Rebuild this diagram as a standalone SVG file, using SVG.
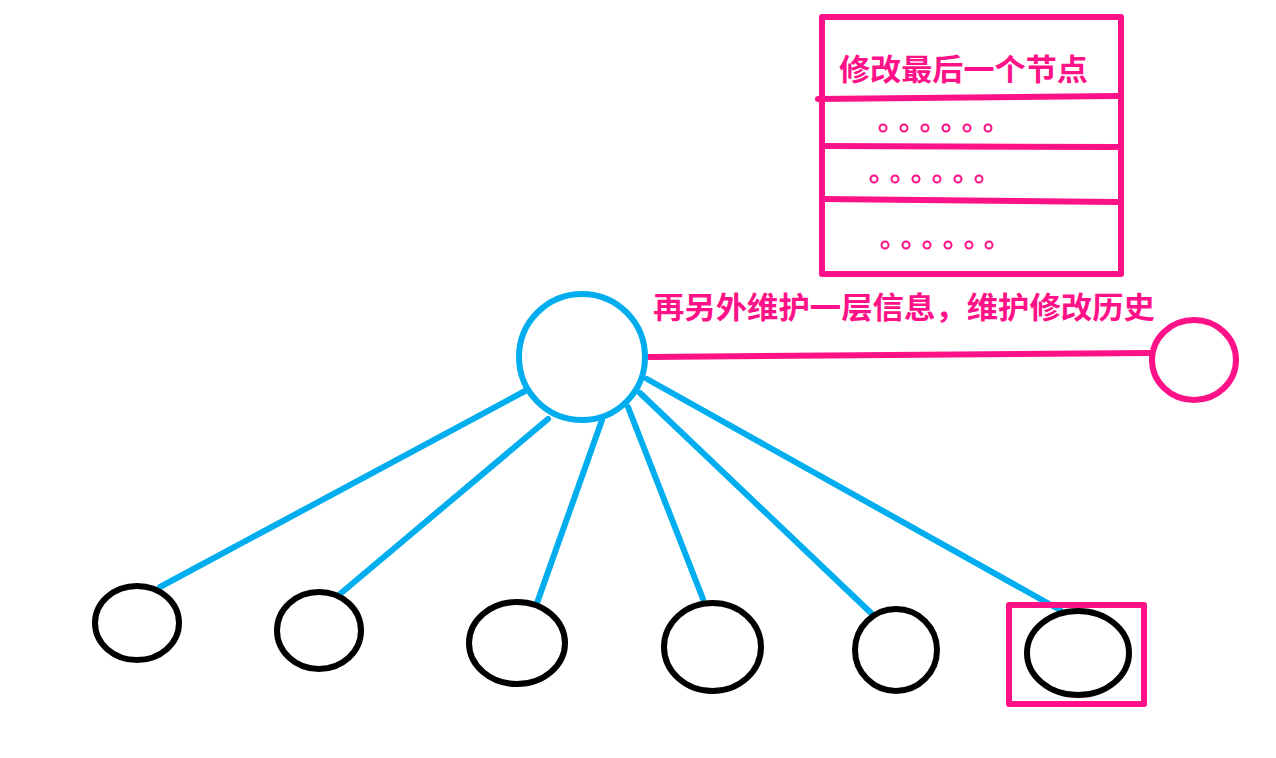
<svg xmlns="http://www.w3.org/2000/svg" width="1276" height="758" viewBox="0 0 1276 758">
<style>
.blue{fill:none;stroke:#00aeef;stroke-width:6;stroke-linecap:round}
.pink{fill:none;stroke:#ff1188;stroke-width:6;stroke-linecap:round;stroke-linejoin:round}
.black{fill:none;stroke:#000;stroke-width:6}
.dot{fill:none;stroke:#ff1188;stroke-width:2}
.lbl{font-family:"Noto Sans CJK SC","Noto Sans",sans-serif;font-weight:bold;font-size:30px;fill:#ff1188}
</style>
<rect width="1276" height="758" fill="#fff"/>
<g id="connectors">
<line class="blue" x1="525" y1="391" x2="160" y2="587"/>
<line class="blue" x1="548" y1="419" x2="340" y2="594"/>
<line class="blue" x1="602" y1="420" x2="537" y2="603"/>
<line class="blue" x1="628" y1="407" x2="703" y2="599"/>
<line class="blue" x1="640" y1="393" x2="871" y2="613"/>
<line class="blue" x1="647" y1="379" x2="1060" y2="610"/>
<line class="pink" x1="649" y1="357" x2="1150" y2="353"/>
</g>
<g id="root">
<ellipse class="blue" cx="582" cy="357" rx="63" ry="63"/>
</g>
<g id="history-node">
<ellipse class="pink" cx="1194" cy="360" rx="42" ry="40"/>
</g>
<g id="label-history">
<text class="lbl" x="653" y="318" textLength="502" lengthAdjust="spacingAndGlyphs">再另外维护一层信息，维护修改历史</text>
</g>
<g id="history-box">
<rect class="pink" x="822" y="17" width="299" height="257"/>
<line class="pink" x1="818" y1="99" x2="1118" y2="96"/>
<line class="pink" x1="822" y1="146" x2="1118" y2="147"/>
<line class="pink" x1="822" y1="199" x2="1118" y2="202"/>
<text class="lbl" x="839" y="80" textLength="249" lengthAdjust="spacingAndGlyphs">修改最后一个节点</text>
<g id="dots-row1">
<circle class="dot" cx="883" cy="128" r="3.5"/>
<circle class="dot" cx="904" cy="128" r="3.5"/>
<circle class="dot" cx="925" cy="128" r="3.5"/>
<circle class="dot" cx="946" cy="128" r="3.5"/>
<circle class="dot" cx="967" cy="128" r="3.5"/>
<circle class="dot" cx="988" cy="128" r="3.5"/>
</g>
<g id="dots-row2">
<circle class="dot" cx="874" cy="179" r="3.5"/>
<circle class="dot" cx="895" cy="179" r="3.5"/>
<circle class="dot" cx="916" cy="179" r="3.5"/>
<circle class="dot" cx="937" cy="179" r="3.5"/>
<circle class="dot" cx="958" cy="179" r="3.5"/>
<circle class="dot" cx="979" cy="179" r="3.5"/>
</g>
<g id="dots-row3">
<circle class="dot" cx="885" cy="245" r="3.5"/>
<circle class="dot" cx="906" cy="245" r="3.5"/>
<circle class="dot" cx="927" cy="245" r="3.5"/>
<circle class="dot" cx="948" cy="245" r="3.5"/>
<circle class="dot" cx="969" cy="245" r="3.5"/>
<circle class="dot" cx="989" cy="245" r="3.5"/>
</g>
</g>
<g id="child1"><ellipse class="black" cx="137" cy="623" rx="42" ry="37"/></g>
<g id="child2"><ellipse class="black" cx="319" cy="630.5" rx="42" ry="38.5"/></g>
<g id="child3"><ellipse class="black" cx="517" cy="643" rx="48" ry="41"/></g>
<g id="child4"><ellipse class="black" cx="712.5" cy="647" rx="48.5" ry="44"/></g>
<g id="child5"><ellipse class="black" cx="896" cy="650" rx="41" ry="41"/></g>
<g id="child6">
<ellipse class="black" cx="1078" cy="653" rx="51" ry="42"/>
<rect class="pink" x="1009" y="605" width="135" height="99"/>
</g>
</svg>
